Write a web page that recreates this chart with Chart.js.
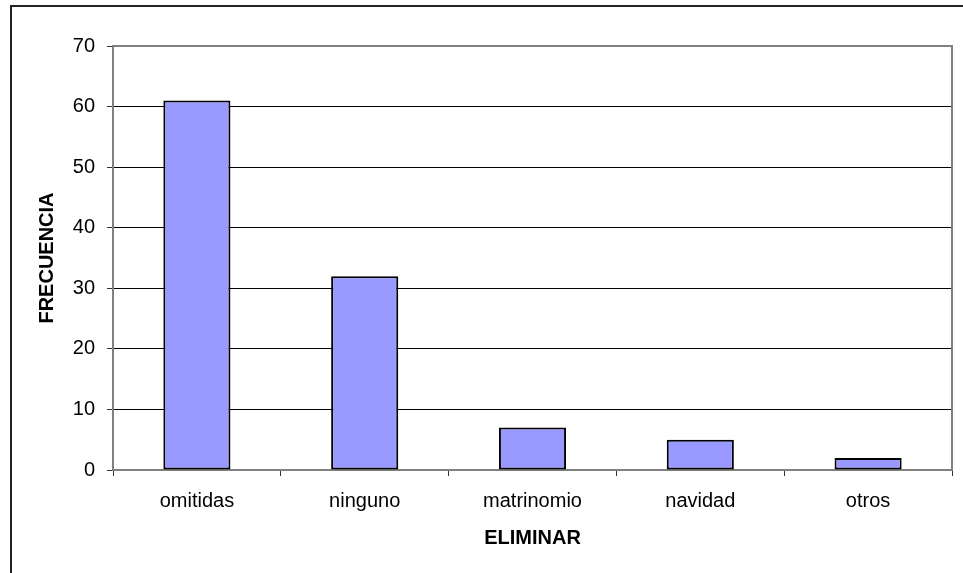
<!DOCTYPE html>
<html>
<head>
<meta charset="utf-8">
<script src="https://cdn.jsdelivr.net/npm/chart.js@4"></script>
<style>
  body { margin: 0; background: #fff; }
  canvas { display: block; }
</style>
</head>
<body>
<canvas id="myChart" width="963" height="573"></canvas>
<script>
// 데이터
const categories = ['omitidas', 'ninguno', 'matrinomio', 'navidad', 'otros'];
const frecuencia = [61, 32, 7, 5, 2];
const yTicks = [0, 10, 20, 30, 40, 50, 60, 70];

const FONT = "'Liberation Sans', Arial, sans-serif";

/**
 * 흰 배경 + 바깥 테두리, 플롯 영역 위/오른쪽 회색 선
 */
const framePlugin = {
  id: 'frame',
  beforeDraw(chart) {
    const ctx = chart.ctx;
    ctx.save();
    ctx.fillStyle = '#fff';
    ctx.fillRect(0, 0, chart.width, chart.height);
    ctx.restore();
  },
  afterDraw(chart) {
    const ctx = chart.ctx;
    const a = chart.chartArea;
    ctx.save();
    // 플롯 영역 테두리 (위, 오른쪽)
    ctx.strokeStyle = '#808080';
    ctx.lineWidth = 2;
    ctx.beginPath();
    ctx.moveTo(a.left, a.top);
    ctx.lineTo(a.right, a.top);
    ctx.lineTo(a.right, a.bottom);
    ctx.stroke();
    // 바깥 테두리
    ctx.strokeStyle = '#222';
    ctx.lineWidth = 2;
    ctx.strokeRect(11, 6, chart.width + 20, chart.height + 20);
    ctx.restore();
  }
};

function drawChart() {
  const ctx = document.getElementById('myChart').getContext('2d');
  let myChart = new Chart(ctx, {
    type: 'bar',
    data: {
      labels: categories,
      datasets: [{
        label: 'FRECUENCIA',
        data: frecuencia,
        backgroundColor: '#9999FF',
        borderColor: '#000',
        borderWidth: 2,
        borderSkipped: false,
        categoryPercentage: 1.0,
        barPercentage: 0.4
      }]
    },
    options: {
      responsive: false,
      animation: false,
      devicePixelRatio: 1,
      layout: {
        padding: { left: 31, top: 46, right: 11, bottom: 19 }
      },
      plugins: {
        legend: { display: false },
        tooltip: { enabled: false }
      },
      scales: {
        x: {
          afterFit: (scale) => { scale.height = 84; },
          border: { color: '#808080', width: 2 },
          grid: {
            offset: true,
            drawOnChartArea: false,
            drawTicks: true,
            tickLength: 6,
            tickColor: '#333'
          },
          ticks: {
            color: '#000',
            padding: 13,
            font: { family: FONT, size: 20 }
          },
          title: {
            display: true,
            text: 'ELIMINAR',
            color: '#000',
            font: { family: FONT, size: 20, weight: 'bold' }
          }
        },
        y: {
          min: 0,
          max: 70,
          afterFit: (scale) => { scale.width = 82; },
          afterBuildTicks: (scale) => {
            scale.ticks = yTicks.map(v => ({ value: v }));
          },
          border: { color: '#808080', width: 2 },
          grid: {
            color: '#000',
            lineWidth: 1,
            tickLength: 6,
            tickColor: '#333'
          },
          ticks: {
            color: '#000',
            padding: 12,
            font: { family: FONT, size: 20 }
          },
          title: {
            display: true,
            text: 'FRECUENCIA',
            color: '#000',
            font: { family: FONT, size: 20, weight: 'bold' }
          }
        }
      }
    },
    plugins: [framePlugin]
  });
}

window.onload = () => {
  drawChart();
};
</script>
</body>
</html>
